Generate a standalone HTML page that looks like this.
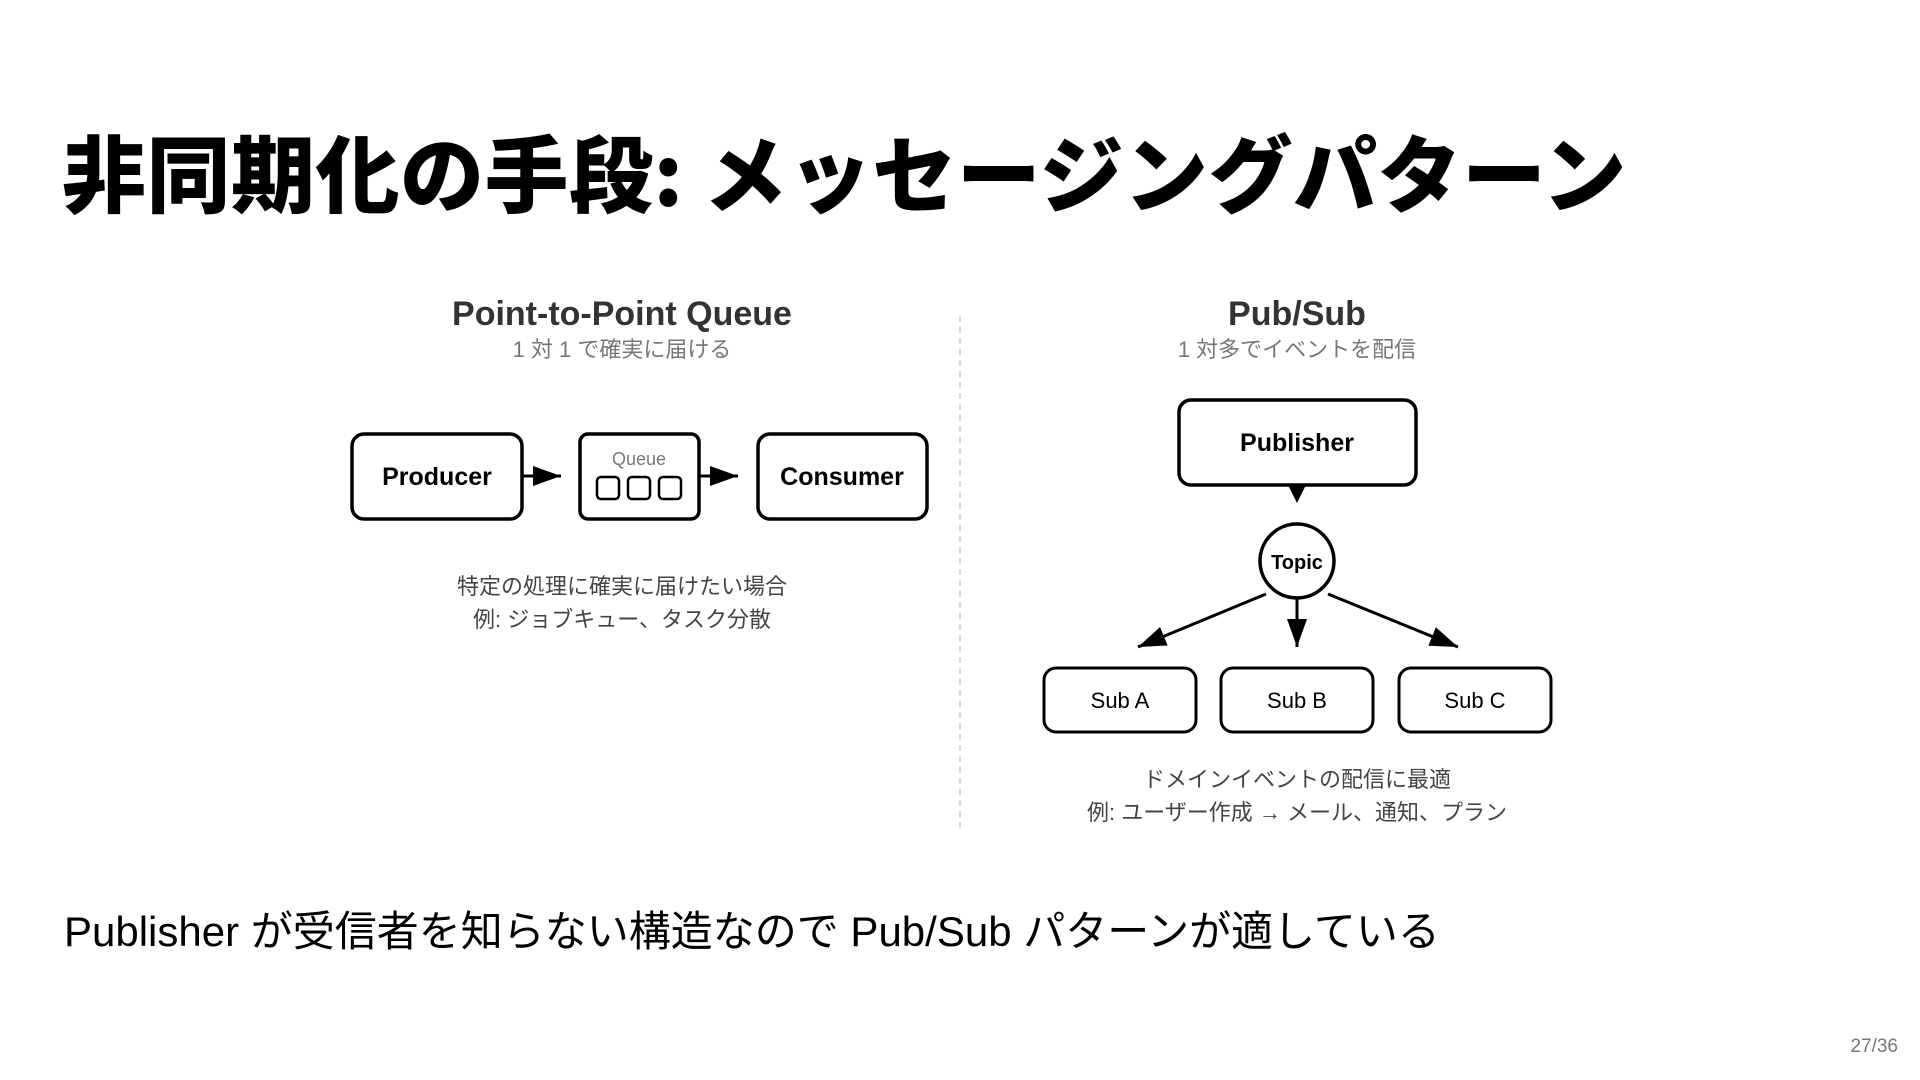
<!DOCTYPE html>
<html><head><meta charset="utf-8"><style>
html,body{margin:0;padding:0;background:#fff;}
body{width:1920px;height:1080px;position:relative;overflow:hidden;font-family:"Liberation Sans","Noto Sans CJK JP",sans-serif;}
.t{position:absolute;white-space:nowrap;}
</style></head><body>
<div class="t" style="left:62px;top:116px;font-size:84px;font-weight:900;color:#000;line-height:110px;letter-spacing:0.5px;font-family:'Noto Sans CJK JP',sans-serif;">非同期化の手段: メッセージングパターン</div>
<svg width="1920" height="1080" style="position:absolute;left:0;top:0" font-family="Liberation Sans, Noto Sans CJK JP, sans-serif">
<defs><marker id="b" markerWidth="28" markerHeight="20" refX="28" refY="10" orient="auto" markerUnits="userSpaceOnUse"><path d="M0,0 L28,10 L0,20z" fill="#000"/></marker></defs>
<text x="622" y="325" text-anchor="middle" font-size="34" font-weight="bold" fill="#333">Point-to-Point Queue</text>
<text x="622" y="357" text-anchor="middle" font-size="22" fill="#777">1 対 1 で確実に届ける</text>
<rect x="352" y="434" width="170" height="85" rx="12" fill="#fff" stroke="#000" stroke-width="3.5"/>
<text x="437" y="485" text-anchor="middle" font-size="25" font-weight="bold">Producer</text>
<rect x="580" y="434" width="119" height="85" rx="8" fill="#fff" stroke="#000" stroke-width="3.5"/>
<text x="639" y="465" text-anchor="middle" font-size="18" fill="#777">Queue</text>
<rect x="597" y="477" width="22" height="22" rx="4" fill="none" stroke="#000" stroke-width="2.5"/>
<rect x="628" y="477" width="22" height="22" rx="4" fill="none" stroke="#000" stroke-width="2.5"/>
<rect x="659" y="477" width="22" height="22" rx="4" fill="none" stroke="#000" stroke-width="2.5"/>
<rect x="758" y="434" width="169" height="85" rx="12" fill="#fff" stroke="#000" stroke-width="3.5"/>
<text x="842" y="485" text-anchor="middle" font-size="25" font-weight="bold">Consumer</text>
<line x1="522" y1="476" x2="561" y2="476" stroke="#000" stroke-width="3" marker-end="url(#b)"/>
<line x1="699" y1="476" x2="738" y2="476" stroke="#000" stroke-width="3" marker-end="url(#b)"/>
<text x="622" y="594" text-anchor="middle" font-size="22" fill="#444">特定の処理に確実に届けたい場合</text>
<text x="622" y="627" text-anchor="middle" font-size="22" fill="#444">例: ジョブキュー、タスク分散</text>
<line x1="960" y1="316" x2="960" y2="833" stroke="#ccc" stroke-width="1.5" stroke-dasharray="6,5"/>
<text x="1297" y="325" text-anchor="middle" font-size="34" font-weight="bold" fill="#333">Pub/Sub</text>
<text x="1297" y="357" text-anchor="middle" font-size="22" fill="#777">1 対多でイベントを配信</text>
<rect x="1179" y="400" width="237" height="85" rx="12" fill="#fff" stroke="#000" stroke-width="3.5"/>
<text x="1297" y="451" text-anchor="middle" font-size="25" font-weight="bold">Publisher</text>
<path d="M1288,485 L1306,485 L1297,503z" fill="#000"/>
<circle cx="1297" cy="561" r="37" fill="#fff" stroke="#000" stroke-width="3.5"/>
<text x="1297" y="569" text-anchor="middle" font-size="20" font-weight="bold">Topic</text>
<line x1="1266" y1="594" x2="1138" y2="647" stroke="#000" stroke-width="3" marker-end="url(#b)"/>
<line x1="1297" y1="598" x2="1297" y2="647" stroke="#000" stroke-width="3" marker-end="url(#b)"/>
<line x1="1328" y1="594" x2="1458" y2="647" stroke="#000" stroke-width="3" marker-end="url(#b)"/>
<rect x="1044" y="668" width="152" height="64" rx="12" fill="#fff" stroke="#000" stroke-width="3"/>
<text x="1120" y="708" text-anchor="middle" font-size="22">Sub A</text>
<rect x="1221" y="668" width="152" height="64" rx="12" fill="#fff" stroke="#000" stroke-width="3"/>
<text x="1297" y="708" text-anchor="middle" font-size="22">Sub B</text>
<rect x="1399" y="668" width="152" height="64" rx="12" fill="#fff" stroke="#000" stroke-width="3"/>
<text x="1475" y="708" text-anchor="middle" font-size="22">Sub C</text>
<text x="1297" y="787" text-anchor="middle" font-size="22" fill="#444">ドメインイベントの配信に最適</text>
<text x="1297" y="820" text-anchor="middle" font-size="22" fill="#444">例: ユーザー作成 → メール、通知、プラン</text>
<text x="64" y="946" font-size="42" fill="#000">Publisher が受信者を知らない構造なので Pub/Sub パターンが適している</text>
<text x="1898" y="1052" text-anchor="end" font-size="19" fill="#777">27/36</text>
</svg>
</body></html>
